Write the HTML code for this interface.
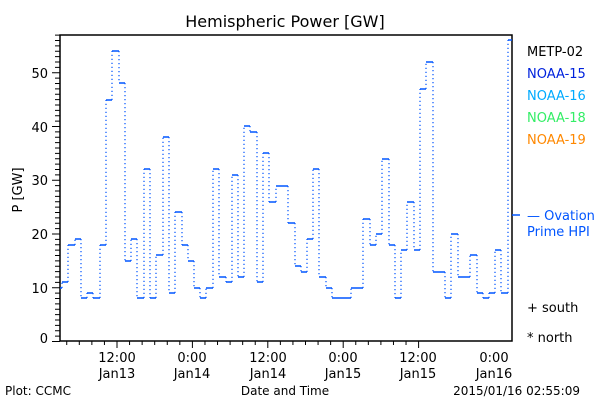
<!DOCTYPE html>
<html><head><style>
body{margin:0;background:#fff;width:600px;height:400px;overflow:hidden}
svg text{font-family:"DejaVu Sans","Liberation Sans",sans-serif;}
</style></head><body>
<svg width="600" height="400" xmlns="http://www.w3.org/2000/svg">
<text x="285" y="27" font-size="16" text-anchor="middle">Hemispheric Power [GW]</text>
<rect x="60" y="35" width="452" height="306" fill="none" stroke="#000" stroke-width="1.5"/>
<g stroke="#000" stroke-width="1" id="ticks"></g>
<g font-size="13" text-anchor="end">
<text x="48" y="343">0</text><text x="48" y="293">10</text><text x="48" y="239">20</text><text x="48" y="185">30</text><text x="48" y="132">40</text><text x="48" y="78">50</text>
</g>
<text x="22" y="190" font-size="13" text-anchor="middle" transform="rotate(-90 22 190)">P [GW]</text>
<g font-size="13" text-anchor="middle">
<text x="117" y="362">12:00</text><text x="117" y="378">Jan13</text>
<text x="192" y="362">0:00</text><text x="192" y="378">Jan14</text>
<text x="268" y="362">12:00</text><text x="268" y="378">Jan14</text>
<text x="343" y="362">0:00</text><text x="343" y="378">Jan15</text>
<text x="418" y="362">12:00</text><text x="418" y="378">Jan15</text>
<text x="494" y="362">0:00</text><text x="494" y="378">Jan16</text>
</g>
<text x="5" y="395" font-size="12">Plot: CCMC</text>
<text x="285" y="395" font-size="12" text-anchor="middle">Date and Time</text>
<text x="580" y="395" font-size="12" text-anchor="end">2015/01/16 02:55:09</text>
<g font-size="13">
<text x="527" y="56" fill="#000">METP-02</text>
<text x="527" y="78" fill="#0022dd">NOAA-15</text>
<text x="527" y="100" fill="#00aaff">NOAA-16</text>
<text x="527" y="122" fill="#33ee66">NOAA-18</text>
<text x="527" y="144" fill="#ff8800">NOAA-19</text>
<text x="527" y="220" fill="#0055ff">— Ovation</text>
<text x="527" y="236" fill="#0055ff">Prime HPI</text>
<text x="527" y="312">+ south</text>
<text x="527" y="342">* north</text>
</g>
<line x1="512" y1="215" x2="520" y2="215" stroke="#0055ff" stroke-width="1.5"/>
<g id="data" stroke="#0055ff" fill="none"></g>
</svg>
<script>
var ns="http://www.w3.org/2000/svg";
function L(g,x1,y1,x2,y2,extra){var l=document.createElementNS(ns,"line");l.setAttribute("x1",x1);l.setAttribute("y1",y1);l.setAttribute("x2",x2);l.setAttribute("y2",y2);if(extra)for(var k in extra)l.setAttribute(k,extra[k]);g.appendChild(l);}
var t=document.getElementById("ticks");
for(var v=0;v<=57;v++){var y=341.5-5.375*v;if(y<35)break;L(t,v%10==0?52:55,y,60,y);}
var px=75.4/12;
for(var h=-16;h<=60;h+=2){var x=117+px*(h-12)+0; if(x<60||x>512)continue;var maj=(h%12==0);L(t,x,341,x,maj?348:345);}
var s=[[60,62,288],[62,68,282],[68,75,245],[75,81,239],[81,87,298],[87,93,293],[93,100,298],[100,106,245],[106,112,100],[112,119,51],[119,125,83],[125,131,261],[131,137,239],[137,144,298],[144,150,169],[150,156,298],[156,163,255],[163,169,137],[169,175,293],[175,182,212],[182,188,245],[188,194,261],[194,200,288],[200,206,298],[206,213,288],[213,219,169],[219,226,277],[226,232,282],[232,238,175],[238,244,277],[244,250,126],[250,257,132],[257,263,282],[263,269,153],[269,276,202],[276,288,186],[288,295,223],[295,301,266],[301,307,272],[307,313,239],[313,319,169],[319,326,277],[326,332,288],[332,351,298],[351,363,288],[363,370,219],[370,376,245],[376,382,234],[382,389,159],[389,395,245],[395,401,298],[401,407,250],[407,414,202],[414,420,250],[420,426,89],[426,433,62],[433,445,272],[445,451,298],[451,458,234],[458,470,277],[470,477,255],[477,483,293],[483,489,298],[489,495,293],[495,501,250],[501,508,293],[508,512,40]];
var d=document.getElementById("data");
for(var i=0;i<s.length;i++){L(d,s[i][0],s[i][2],s[i][1],s[i][2],{"stroke-width":"1.5"});
if(i>0){L(d,s[i][0],s[i-1][2],s[i][0],s[i][2],{"stroke-width":"1.2","stroke-dasharray":"1.3 2.7"});}}
</script>
</body></html>
